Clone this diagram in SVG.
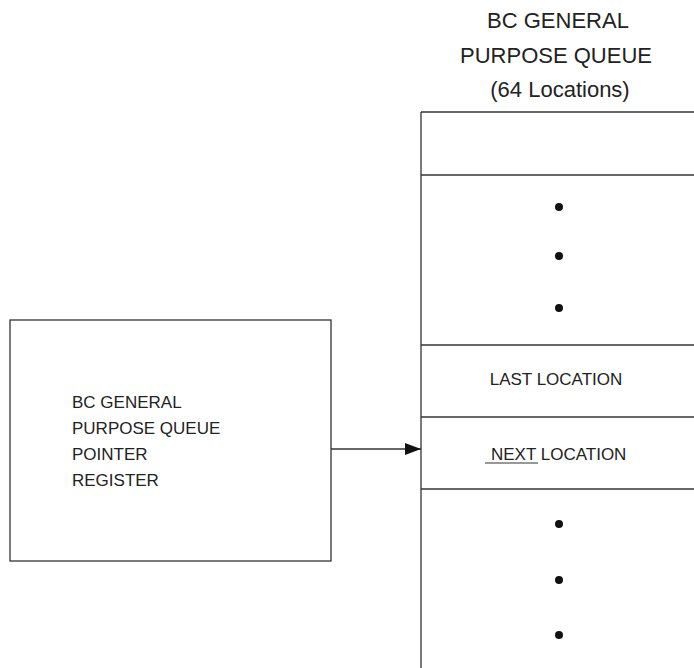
<svg xmlns="http://www.w3.org/2000/svg" width="694" height="668" viewBox="0 0 694 668">
<defs>
<style>
.ln{stroke:#333;stroke-width:1.3;fill:none}
.t{font-family:"Liberation Sans",Arial,sans-serif;fill:#222}
.dot{fill:#111}
</style>
<marker id="ah" markerWidth="16" markerHeight="12" refX="16" refY="6" orient="auto" markerUnits="userSpaceOnUse">
<path d="M0,0 L16,6 L0,12 Z" fill="#111"/>
</marker>
</defs>
<rect width="694" height="668" fill="#fff"/>
<g id="title">
<text class="t" font-size="22" text-anchor="middle" x="558" y="28">BC GENERAL</text>
<text class="t" font-size="22" text-anchor="middle" x="556" y="63">PURPOSE QUEUE</text>
<text class="t" font-size="22" text-anchor="middle" x="560" y="97">(64 Locations)</text>
</g>
<g id="queue">
<line class="ln" x1="421" y1="112" x2="421" y2="668"/>
<line class="ln" x1="421" y1="112" x2="694" y2="112"/>
<line class="ln" x1="421" y1="175" x2="694" y2="175"/>
<line class="ln" x1="421" y1="345" x2="694" y2="345"/>
<line class="ln" x1="421" y1="417" x2="694" y2="417"/>
<line class="ln" x1="421" y1="489" x2="694" y2="489"/>
<circle class="dot" cx="559" cy="207" r="4"/>
<circle class="dot" cx="559" cy="256" r="4"/>
<circle class="dot" cx="559" cy="308" r="4"/>
<circle class="dot" cx="559" cy="524" r="4"/>
<circle class="dot" cx="559" cy="580" r="4"/>
<circle class="dot" cx="559" cy="635" r="4"/>
</g>
<g id="last-location">
<text class="t" font-size="17" text-anchor="middle" x="556" y="385">LAST LOCATION</text>
</g>
<g id="next-location">
<text class="t" font-size="17" x="491" y="460">NEXT LOCATION</text>
<line x1="485" y1="463" x2="538" y2="463" stroke="#333" stroke-width="1.2"/>
</g>
<g id="pointer-register">
<rect class="ln" x="10" y="320" width="321" height="241"/>
<text class="t" font-size="17" x="72" y="408">BC GENERAL</text>
<text class="t" font-size="17" x="72" y="434">PURPOSE QUEUE</text>
<text class="t" font-size="17" x="72" y="460">POINTER</text>
<text class="t" font-size="17" x="72" y="486">REGISTER</text>
</g>
<g id="connectors">
<line class="ln" x1="331" y1="449" x2="421" y2="449" marker-end="url(#ah)"/>
</g>
</svg>
